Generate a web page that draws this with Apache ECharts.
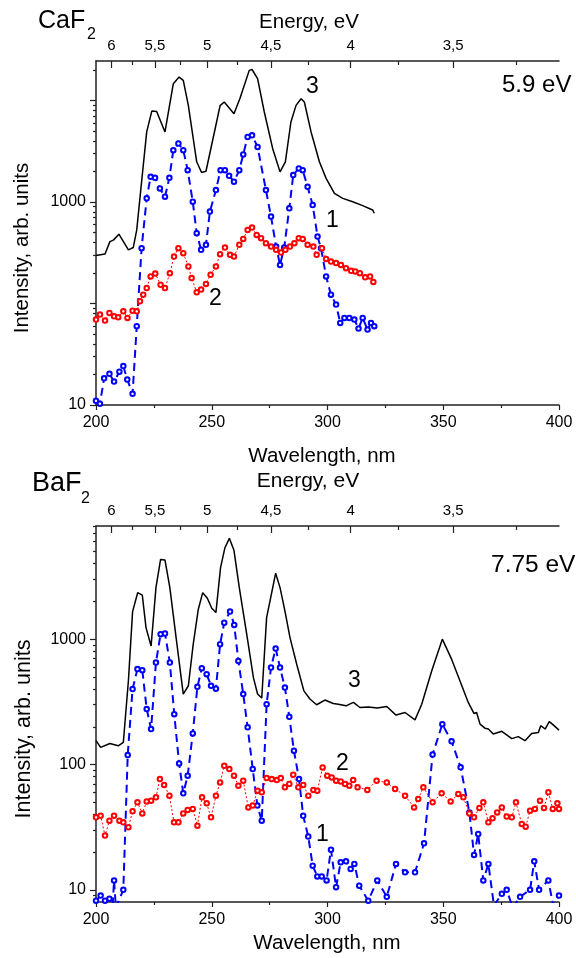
<!DOCTYPE html>
<html>
<head>
<meta charset="utf-8">
<script src="https://cdn.jsdelivr.net/npm/echarts@6/dist/echarts.min.js"></script>
<style>
  html, body { margin: 0; padding: 0; background: #fff; }
  #chart { width: 576px; height: 958px; }
</style>
</head>
<body>
<div id="chart"></div>
<script>
// --- data: [wavelength nm, intensity arb. units] ---
const caf2Curve3 = [[200, 297], [203.9, 308], [206, 407], [207.5, 421], [209.9, 482], [214, 338], [216.1, 356], [217.6, 531], [219.7, 1585], [221.9, 4900], [224.1, 7870], [226.2, 7800], [229.8, 4900], [233.4, 14650], [235.9, 17000], [237.7, 15800], [239.9, 8900], [243.5, 2490], [245.6, 1950], [247.5, 2010], [250.7, 4370], [253.6, 8900], [255.4, 9660], [259.6, 7420], [262.2, 10500], [266.2, 19800], [267.4, 20200], [269.8, 16400], [272.7, 7700], [276.3, 3370], [279.5, 1980], [281.8, 2490], [284.2, 6140], [286.4, 8950], [288.6, 10400], [290, 9660], [292.9, 4900], [296.5, 2490], [299.4, 1710], [303, 1217], [306.6, 1086], [310.9, 1007], [315.2, 920], [319.5, 835], [320.2, 774]];
const caf2Curve1 = [[200, 11], [201.7, 10.3], [203.5, 18.3], [205.8, 20.3], [207.8, 17], [210.1, 21.3], [211.8, 24.2], [213.5, 17.8], [215.8, 12.9], [217.6, 59.7], [219.7, 351], [221.9, 1087], [223.6, 1770], [225.5, 1730], [227.6, 1360], [229.8, 1127], [231.7, 1730], [233.4, 3240], [235.6, 3770], [237.7, 3240], [239.6, 2060], [241.8, 1007], [243.5, 493], [245.4, 338], [247.5, 379], [249.2, 804], [251.8, 1312], [253.8, 2060], [255.7, 2060], [257.5, 1811], [259.6, 1585], [261.9, 2060], [263.6, 2940], [265.5, 4370], [267.4, 4540], [269.8, 3490], [273.4, 1312], [275.6, 718], [277.8, 364], [279.5, 240], [281.3, 356], [283.5, 867], [285.2, 1840], [287.6, 2140], [289.3, 2060], [291.4, 1413], [293.6, 933], [295.7, 456], [297.2, 351], [299.4, 185], [301.5, 122], [303.7, 97.5], [305.5, 64.4], [307.3, 72], [309.4, 72], [311.6, 69.4], [313.4, 56.6], [315.2, 72], [317.3, 55.3], [318.8, 64.4], [320.2, 59.7]];
const caf2Curve2 = [[200, 69.4], [201.7, 77.7], [203.9, 67.9], [205.8, 80.8], [207.8, 74.8], [209.6, 73.1], [211.8, 83.8], [213.6, 72], [215.8, 85], [217.6, 83.8], [219, 105], [220.4, 122], [221.9, 142], [223.6, 185], [225.6, 197], [227.9, 153], [229.8, 142], [231.9, 199], [233.7, 290], [235.6, 351], [237.7, 313], [239.9, 232], [241.3, 178], [243.5, 129], [245.4, 137], [247.5, 156], [249.5, 192], [251.8, 232], [253.6, 306], [255.7, 356], [257.9, 302], [259.6, 290], [261.9, 379], [263.6, 433], [265.5, 531], [267.4, 560], [269.4, 474], [271.3, 440], [273.4, 393], [275.6, 364], [277.8, 338], [279.9, 318], [281.8, 338], [283.8, 364], [285.7, 393], [287.6, 440], [289.3, 433], [291.4, 379], [293.9, 364], [295.3, 302], [297.6, 351], [299.4, 275], [301.5, 259], [303.7, 250], [305.8, 240], [308, 223], [310.2, 210], [312, 207], [314, 199], [316.3, 181], [318.4, 185], [319.8, 163]];

const baf2Curve3 = [[200, 155], [202, 137], [206, 147], [209.6, 141], [211.8, 150], [214, 466], [215.8, 1660], [218, 2350], [220, 2250], [221.6, 1237], [223.8, 883], [225.9, 2580], [227.9, 4330], [229.8, 4280], [231.9, 2580], [234.6, 1030], [237.7, 365], [239.9, 425], [242, 912], [244.2, 1734], [246.1, 2350], [248.1, 2120], [250, 1767], [251.8, 1630], [253.8, 3720], [255.7, 5370], [257.6, 6380], [259.6, 5120], [261.9, 2580], [265.1, 1097], [268, 494], [269.8, 365], [271.6, 339], [273.7, 1486], [275.9, 2350], [277.6, 3360], [279.5, 2580], [281.6, 1680], [283.8, 1030], [286.7, 631], [289.8, 387], [292.4, 333], [295.3, 300], [298.9, 327], [302.5, 307], [304.7, 303], [308, 294], [311.2, 313], [314, 285], [317.6, 288], [321.5, 282], [325.6, 290], [329.6, 248], [333.5, 260], [337.8, 227], [340.7, 303], [345, 558], [349.6, 1000], [353.6, 693], [357.2, 466], [360.8, 313], [363.3, 255], [364.4, 260], [365.9, 210], [368, 195], [369.5, 192], [371.6, 175], [375.3, 184], [379.6, 161], [382.4, 167], [385.3, 155], [388.2, 177], [391.1, 180], [392.1, 204], [394, 192], [395.8, 220], [397.5, 207], [400, 188]];
const baf2Curve1 = [[200, 8.2], [202, 9.0], [203.9, 8.2], [205.8, 8.5], [207.2, 7.5], [207.8, 11.9], [208.6, 7.2], [211.8, 10], [213.7, 119], [215.8, 400], [217.9, 577], [220, 566], [221.9, 277], [223.8, 192], [225.9, 651], [227.9, 1097], [229.8, 1110], [231.9, 651], [233.8, 252], [235.9, 102], [237.7, 58.9], [239.6, 81.4], [241.8, 177], [243.8, 417], [245.7, 587], [247.8, 526], [249.7, 425], [251.8, 403], [253.6, 912], [255.4, 1355], [257.9, 1660], [259.7, 1300], [261.5, 671], [263.6, 365], [265.5, 198], [267.7, 92], [269.7, 47], [271.6, 35.6], [273.7, 303], [275.6, 594], [277.6, 841], [279.5, 594], [281.6, 411], [283.5, 240], [285.5, 129], [287.7, 76.6], [289.5, 39], [291.7, 26.6], [293.6, 15.6], [295.6, 12.8], [297.5, 12.8], [299.6, 11.9], [301.5, 20.9], [303.7, 10.5], [305.7, 16.6], [308, 16.9], [310, 14.7], [311.6, 16.1], [313.7, 10.8], [317.6, 8.2], [321.5, 11.9], [325.6, 8.8], [329.6, 16.1], [333.5, 13.8], [337.8, 13.8], [341.7, 23.5], [345.4, 120], [349.6, 210], [353.6, 153], [357.5, 95], [361.3, 41.5], [363.3, 19], [365.1, 27.9], [367.3, 11.9], [369.5, 16.1], [371.9, 7.5], [375.3, 9.3], [377.4, 10], [380, 7.2], [383.2, 8.8], [387.5, 10], [389.3, 16.9], [391.4, 10], [395.4, 11.9], [397.5, 7.5], [400, 9.0]];
const baf2Curve2 = [[200, 37.9], [202, 39.1], [203.9, 27.1], [205.8, 35.6], [207.8, 39.1], [210.1, 35.6], [211.8, 34.6], [214, 31.6], [215.8, 42.3], [217.9, 49.9], [220, 40.7], [221.9, 50.8], [223.8, 51.5], [225.9, 54.7], [227.6, 76.6], [229.4, 68.7], [231.7, 56.4], [233.7, 34.6], [235.6, 34.6], [237.7, 40.7], [239.6, 43.4], [241.8, 44.2], [243.8, 32.5], [245.8, 54.7], [247.8, 49], [249.7, 37.9], [251.8, 56.4], [253.6, 71.9], [255.4, 97.7], [257.6, 92], [259.6, 81.4], [261.5, 67.8], [263.6, 74.3], [265.8, 45.5], [267.7, 47], [269.8, 61.8], [271.6, 60], [273.7, 78], [275.9, 76.6], [278.1, 75.2], [279.8, 78], [281.6, 65.8], [283.5, 70], [285.2, 83], [287.4, 65.8], [289.5, 68.7], [291.7, 56.4], [293.9, 62.7], [295.6, 61.8], [297.9, 94.8], [299.9, 81.4], [301.8, 78.9], [303.7, 74.3], [305.7, 73.3], [307.6, 70], [309.4, 67.8], [311.1, 75.2], [313, 65.8], [317.2, 62.7], [321.2, 74.3], [325.6, 71.9], [329.2, 63.8], [333.5, 56.4], [337.4, 45.5], [339.2, 53.1], [341.4, 65.8], [345.4, 49.9], [349.3, 58.9], [353.2, 50.8], [356.5, 58.2], [358.7, 54.7], [361.3, 40.7], [363.3, 37.9], [365.6, 45], [367.3, 49.9], [369.5, 34.6], [371.3, 37.2], [373.3, 41.5], [375.3, 45.5], [377.4, 38.4], [379.6, 37.9], [381.4, 49.9], [383.9, 33.6], [385.6, 31.9], [387.5, 42.8], [389.6, 44.2], [391.8, 51.5], [393.5, 45], [395.4, 60], [397.3, 44.2], [399.3, 49], [400, 44.2]];

// top axis: photon energy, eV (wavelength = 1240 / E)
const energyMajor = [6, 5.5, 5, 4.5, 4, 3.5];
const energyLabels = ['6', '5,5', '5', '4,5', '4', '3,5'];
const energyMinor = [5.75, 5.25, 4.75, 4.25, 3.75, 3.25];

// y ticks
const cafYMajor = [10, 100, 1000, 10000];
const cafYLabels = [10, 1000];
const cafYMinor = [20, 30, 40, 50, 60, 70, 80, 90, 200, 300, 400, 500, 600, 700, 800, 900, 2000, 3000, 4000, 5000, 6000, 7000, 8000, 9000, 20000];
const bafYMajor = [10, 100, 1000];
const bafYLabels = [10, 100, 1000];
const bafYMinor = [9, 20, 30, 40, 50, 60, 70, 80, 90, 200, 300, 400, 500, 600, 700, 800, 900, 2000, 3000, 4000, 5000, 6000, 7000, 8000];

const FONT = 'Liberation Sans, Arial, sans-serif';
const AXIS_COLOR = '#222';
const toWl = e => 1240 / e;

const chart = echarts.init(document.getElementById('chart'), null, { renderer: 'canvas' });

const grids = [
  { left: 96, top: 61, width: 463, height: 344, outerBoundsMode: 'none' },
  { left: 96, top: 526, width: 463, height: 376, outerBoundsMode: 'none' }
];

function xAxes(g) {
  return [
    {
      gridIndex: g, type: 'value', position: 'bottom', min: 200, max: 400, interval: 50,
      axisLine: { show: true, onZero: false, lineStyle: { color: AXIS_COLOR, width: 1.5 } },
      axisTick: { show: true, length: 5, lineStyle: { color: AXIS_COLOR, width: 1.2 } },
      minorTick: { show: true, splitNumber: 2, length: 3, lineStyle: { color: AXIS_COLOR, width: 1.2 } },
      axisLabel: { color: '#000', fontSize: 16, fontFamily: FONT, margin: 10 },
      splitLine: { show: false }
    },
    {
      gridIndex: g, type: 'value', position: 'top', min: 200, max: 400,
      axisLine: { show: true, onZero: false, lineStyle: { color: AXIS_COLOR, width: 1.5 } },
      axisTick: { show: true, inside: true, length: 7, customValues: energyMajor.map(toWl), lineStyle: { color: AXIS_COLOR, width: 1.2 } },
      axisLabel: {
        color: '#000', fontSize: 15, fontFamily: FONT, margin: 8,
        customValues: energyMajor.map(toWl),
        formatter: v => {
          const i = energyMajor.findIndex(e => Math.abs(toWl(e) - v) < 0.01);
          return i >= 0 ? energyLabels[i] : '';
        }
      },
      splitLine: { show: false }
    },
    {
      gridIndex: g, type: 'value', position: 'top', min: 200, max: 400,
      axisLine: { show: false, onZero: false },
      axisTick: { show: true, inside: true, length: 4, customValues: energyMinor.map(toWl), lineStyle: { color: AXIS_COLOR, width: 1.2 } },
      axisLabel: { show: false },
      splitLine: { show: false }
    }
  ];
}

function yAxes(g, min, max, major, labels, minor) {
  return [
    {
      gridIndex: g, type: 'log', logBase: 10, min: min, max: max, position: 'left',
      axisLine: { show: true, lineStyle: { color: AXIS_COLOR, width: 1.5 } },
      axisTick: { show: true, length: 6, customValues: major, lineStyle: { color: AXIS_COLOR, width: 1.2 } },
      axisLabel: { color: '#000', fontSize: 16, fontFamily: FONT, margin: 10, customValues: labels, formatter: v => String(Math.round(v)) },
      splitLine: { show: false }
    },
    {
      gridIndex: g, type: 'log', logBase: 10, min: min, max: max, position: 'left',
      axisLine: { show: false },
      axisTick: { show: true, length: 3, customValues: minor, lineStyle: { color: AXIS_COLOR, width: 1.2 } },
      axisLabel: { show: false },
      splitLine: { show: false }
    }
  ];
}

function curves(xi, yi, c3, c1, c2) {
  return [
    {
      type: 'line', xAxisIndex: xi, yAxisIndex: yi, data: c3, symbol: 'none', z: 3,
      lineStyle: { color: '#000', width: 1.5 }
    },
    {
      type: 'line', xAxisIndex: xi, yAxisIndex: yi, data: c1, symbol: 'emptyCircle', symbolSize: 4.5, z: 4,
      showAllSymbol: true,
      itemStyle: { color: '#0000ff', borderWidth: 0.8 },
      lineStyle: { color: '#0000ff', width: 2, type: [8, 5] }
    },
    {
      type: 'line', xAxisIndex: xi, yAxisIndex: yi, data: c2, symbol: 'emptyCircle', symbolSize: 4.5, z: 5,
      showAllSymbol: true,
      itemStyle: { color: '#ff0000', borderWidth: 0.7 },
      lineStyle: { color: '#ff0000', width: 1, type: [2, 2] }
    }
  ];
}

function label(text, x, y, size, align, extra) {
  return Object.assign({
    type: 'text', x: x, y: y, z: 10,
    style: { text: text, fontSize: size, fontFamily: FONT, fill: '#000', align: align || 'left', verticalAlign: 'middle' }
  }, extra || {});
}

const option = {
  animation: false,
  backgroundColor: '#fff',
  grid: grids,
  xAxis: [...xAxes(0), ...xAxes(1)],
  yAxis: [
    ...yAxes(0, 10, 24500, cafYMajor, cafYLabels, cafYMinor),
    ...yAxes(1, 8, 8000, bafYMajor, bafYLabels, bafYMinor)
  ],
  series: [
    ...curves(0, 0, caf2Curve3, caf2Curve1, caf2Curve2),
    ...curves(3, 2, baf2Curve3, baf2Curve1, baf2Curve2)
  ],
  graphic: [
    // CaF2 panel
    label('CaF', 38, 21, 25),
    label('2', 87, 35, 16),
    label('Energy, eV', 309, 22, 20.5, 'center'),
    label('5.9 eV', 502, 85, 24),
    label('3', 306, 87, 23),
    label('1', 326, 221, 23),
    label('2', 209, 299, 23),
    label('Wavelength, nm', 322, 456, 20.5, 'center'),
    label('Intensity, arb. units', 22, 248, 20.5, 'center', { rotation: Math.PI / 2 }),
    // BaF2 panel
    label('BaF', 32, 484, 27),
    label('2', 81, 499, 16),
    label('Energy, eV', 308, 481, 21, 'center'),
    label('7.75 eV', 491, 565, 24.5),
    label('3', 348, 681, 23),
    label('2', 336, 764, 23),
    label('1', 316, 835, 23),
    label('Wavelength, nm', 327, 943, 20.5, 'center'),
    label('Intensity, arb. units', 24, 729, 21.5, 'center', { rotation: Math.PI / 2 })
  ]
};

chart.setOption(option);
</script>
</body>
</html>
